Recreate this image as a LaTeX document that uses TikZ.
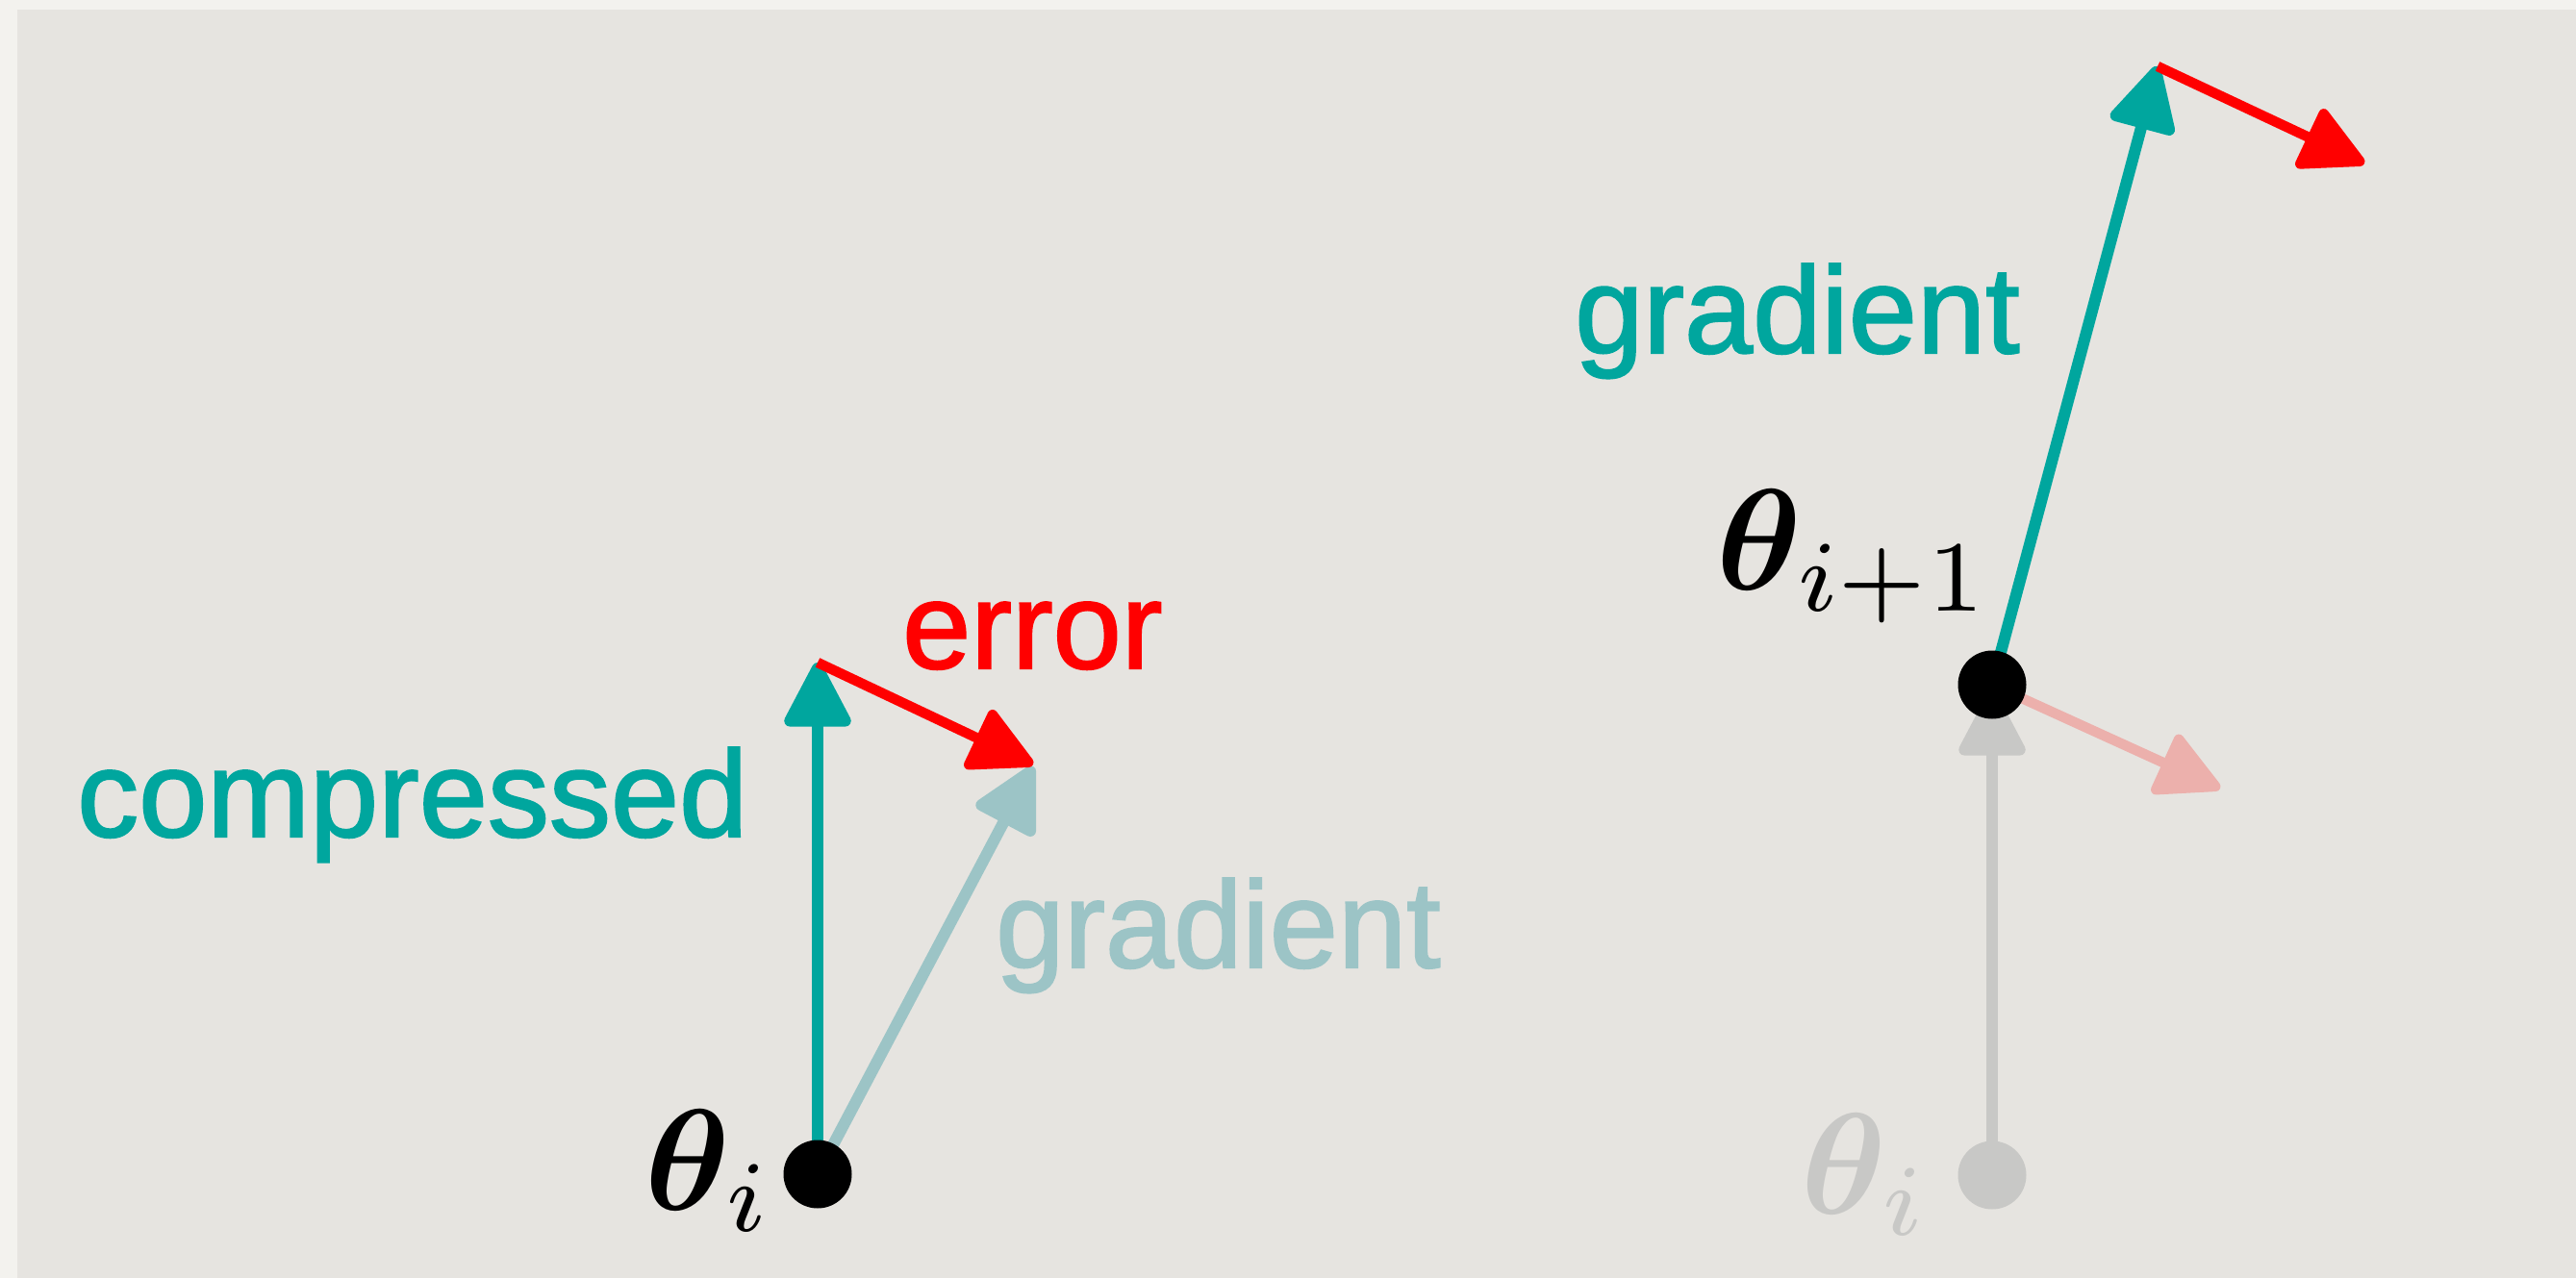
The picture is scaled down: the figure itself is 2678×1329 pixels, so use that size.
\documentclass[tikz,border=0pt]{standalone}
\usepackage{bm}
\usepackage{fontspec}
\newfontfamily\labelfont[FakeBold=1.6]{Liberation Sans}
\usetikzlibrary{arrows.meta}
\definecolor{mteal}{RGB}{0,166,158}
\definecolor{mlteal}{RGB}{156,196,198}
\definecolor{mred}{RGB}{255,0,0}
\definecolor{mpink}{RGB}{236,176,172}
\definecolor{mgrey}{RGB}{200,200,198}
\definecolor{outerbg}{RGB}{243,242,238}
\definecolor{innerbg}{RGB}{230,228,224}
\begin{document}
\begin{tikzpicture}[x=1pt,y=-1pt,
  lbl/.style={inner sep=0pt, anchor=base west, font=\labelfont\fontsize{128}{150}\selectfont},
  mathlbl/.style={inner sep=0pt, anchor=base west},
  dot/.style={circle, fill=black, minimum size=71pt, inner sep=0pt},
  vec/.style={line width=12pt, -{Triangle[length=74pt,width=74pt,round]}},
  thin vec/.style={line width=10.5pt, -{Triangle[length=72pt,width=72pt,round]}},
]
\fill[outerbg] (0,0) rectangle (2678,1329);
\fill[innerbg] (18,10) rectangle (2678,1329);
\useasboundingbox (0,0) rectangle (2678,1329);

% ---------- left: compressed step ----------
\coordinate (p0) at (850,1221);
\coordinate (ctip) at (850,689);
\coordinate (etip) at (1074,795);
\coordinate (gtip) at (1074,797);
\draw[vec, mteal] (p0) -- (ctip);
\draw[vec, mlteal] (p0) -- (gtip);
\draw[thin vec, mred] (ctip) -- (etip);
\node[dot] (d0) at (p0) {};
\node[mathlbl] (t0) at (670,1258) {\scalebox{15}{$\bm{\theta}_i$}};
\node[lbl, text=mteal] (lcomp) at (80,870) {compressed};
\node[lbl, text=mred] (lerr) at (938,695) {error};
\node[lbl, text=mlteal] (lgrad) at (1035,1006) {gradient};

% ---------- right: next step ----------
\coordinate (q0) at (2071,712);
\coordinate (qi) at (2071,1222);
\coordinate (greytip) at (2071,719);
\coordinate (g2tip) at (2243,69);
\coordinate (e2tip) at (2458,170);
\coordinate (pinktip) at (2308,820);
\draw[vec, mgrey] (qi) -- (greytip);
\node[dot, fill=mgrey] (dgi) at (qi) {};
\node[mathlbl, text=mgrey] (tgi) at (1872,1262) {\scalebox{15}{$\bm{\theta}_i$}};
\draw[thin vec, mpink] (q0) -- (pinktip);
\draw[vec, mteal] (q0) -- (g2tip);
\draw[thin vec, mred] (g2tip) -- (e2tip);
\node[dot] (d1) at (q0) {};
\node[mathlbl] (t1) at (1784,613) {\scalebox{15}{$\bm{\theta}_{i+1}$}};
\node[lbl, text=mteal] (rgrad) at (1637,367) {gradient};
\end{tikzpicture}
\end{document}
